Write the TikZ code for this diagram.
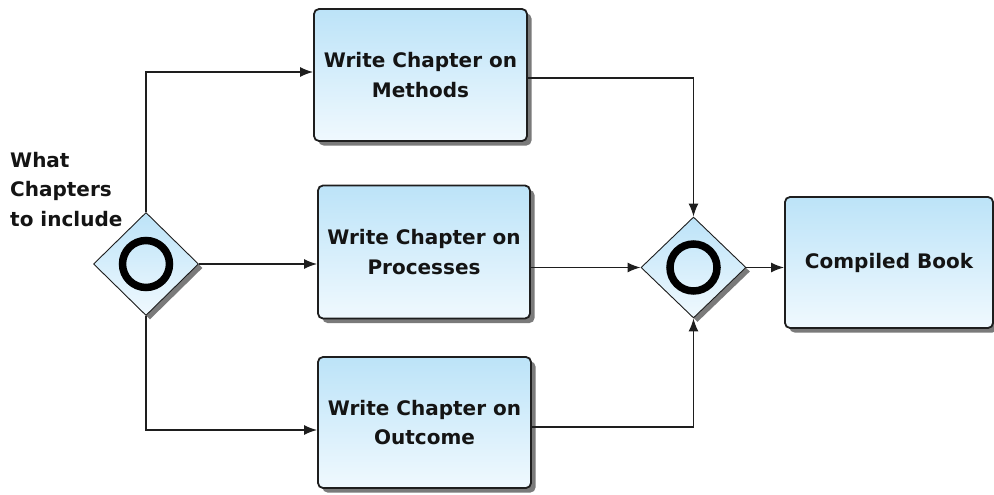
\documentclass[tikz,border=0pt]{standalone}
\usepackage{fontspec}
\setmainfont{DejaVu Sans}
\usetikzlibrary{shapes.geometric,shadows,arrows.meta,calc}
\definecolor{topblue}{HTML}{BCE3F8}
\definecolor{botblue}{HTML}{F0F9FE}
\definecolor{edgegray}{HTML}{1E1E1E}
\definecolor{shadowgray}{HTML}{7A7A7A}
\begin{document}
\begin{tikzpicture}[x=1pt,y=-1pt,
  txt/.style={font=\fontsize{20}{29.5}\selectfont\bfseries, text=black!92},
  task/.style={rectangle, rounded corners=5pt, draw=edgegray, line width=1.8pt,
    top color=topblue, bottom color=botblue, align=center, txt,
    drop shadow={shadow xshift=4.5pt, shadow yshift=-4.5pt, fill=shadowgray, opacity=1}},
  gate/.style={diamond, draw=edgegray, line width=0.9pt, inner sep=0pt,
    top color=topblue, bottom color=botblue,
    drop shadow={shadow xshift=4pt, shadow yshift=-4pt, fill=shadowgray, opacity=1}},
  flow/.style={line width=1.5pt, draw=edgegray, -{Latex[length=13pt,width=10pt]}}]
\useasboundingbox (0,0) rectangle (994,495);
\node[task, minimum width=213pt, minimum height=132pt] (m) at (420.5,75) {Write Chapter on\\Methods};
\node[task, minimum width=212pt, minimum height=133pt] (p) at (424,252) {Write Chapter on\\Processes};
\node[task, minimum width=213pt, minimum height=131pt] (o) at (424.5,422.5) {Write Chapter on\\Outcome};
\node[task, minimum width=208pt, minimum height=131pt] (b) at (889,262.5) {Compiled Book};
\node[gate, minimum width=105pt, minimum height=103pt] (g1) at (146,264) {};
\node[gate, minimum width=105pt, minimum height=101pt] (g2) at (693.5,267.5) {};
\draw[line width=7.5pt] (g1.center) circle (23.5pt);
\draw[line width=7.5pt] (g2.center) circle (23.5pt);
\node[txt, anchor=north west, align=left, inner sep=0pt] (lbl) at (10,152) {What\\Chapters\\to include};
\coordinate (mi) at ($(m.west)+(0,-3)$);
\coordinate (pi) at ($(p.west)+(0,12)$);
\coordinate (oi) at ($(o.west)+(0,7.5)$);
\coordinate (mo) at ($(m.east)+(0,3)$);
\coordinate (po) at ($(p.east)+(0,15.5)$);
\coordinate (oo) at ($(o.east)+(0,4.5)$);
\draw[flow] (g1.north) |- (mi);
\draw[flow] (g1.east) -- (g1.east -| pi);
\draw[flow] (g1.south) |- (oi);
\draw[flow] (mo) -| (g2.north);
\draw[flow] (po) -- (po -| g2.west);
\draw[flow] (oo) -| (g2.south);
\draw[flow] (g2.east) -- (g2.east -| b.west);
\end{tikzpicture}
\end{document}
